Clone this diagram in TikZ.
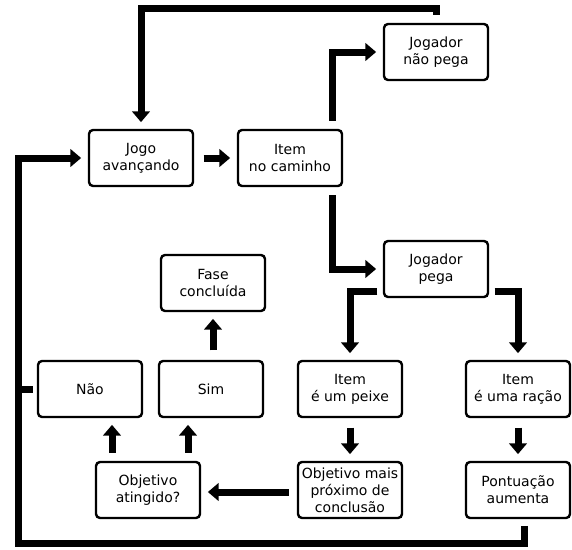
\documentclass[tikz,border=0pt]{standalone}
\usepackage{fontspec}
\setmainfont{DejaVu Sans}
\usetikzlibrary{arrows.meta}

\begin{document}
\begin{tikzpicture}[x=0.75pt, y=-0.75pt,
  box/.style={draw, line width=1.8pt, rounded corners=3pt, fill=white,
    minimum width=78pt, minimum height=42pt, inner sep=1pt, align=center,
    font=\fontsize{10.5}{12.8}\selectfont},
  flow/.style={line width=5.25pt, -{Triangle[length=8pt,width=13pt]},
    shorten <=6pt, shorten >=5pt},
  link/.style={line width=5.25pt, shorten <=3pt}]
\useasboundingbox (0,0) rectangle (572,550);

% Boxes
\node[box] (jogo) at (141,158) {Jogo\\avançando};
\node[box] (item) at (290,158) {Item\\no caminho};
\node[box] (naopega) at (436,52) {Jogador\\não pega};
\node[box] (pega) at (436,269) {Jogador\\pega};
\node[box] (fase) at (213,283) {Fase\\concluída};
\node[box] (nao) at (90,389) {Não};
\node[box] (sim) at (211,389) {Sim};
\node[box] (peixe) at (350,389) {Item\\é um peixe};
\node[box] (racao) at (518,389) {Item\\é uma ração};
\node[box] (atingido) at (148,490) {Objetivo\\atingido?};
\node[box] (proximo) at (350,490) {Objetivo mais\\próximo de\\conclusão};
\node[box] (pontuacao) at (518,490) {Pontuação\\aumenta};

% Corner of the loop back
\coordinate (loopbl) at (18,543);

% Arrows
\draw[flow] (naopega.north) -- ++(0,-14) -| (jogo.north);
\draw[flow, shorten <=7pt] (jogo.east) -- (item.west);
\draw[flow] ([xshift=32pt]item.north) |- (naopega.west);
\draw[flow] ([xshift=32pt]item.south) |- (pega.west);
\draw[flow, shorten <=4pt] ([yshift=-16.5pt]pega.west) -| (peixe.north);
\draw[flow, shorten <=4pt] ([yshift=-16.5pt]pega.east) -| (racao.north);
\draw[flow, shorten <=7pt] (peixe.south) -- (proximo.north);
\draw[flow, shorten <=7pt] (racao.south) -- (pontuacao.north);
\draw[flow] ([yshift=-1.5pt]proximo.west) -- ([yshift=-1.5pt]atingido.east);
\draw[flow] ([xshift=-27pt]atingido.north) -- ([xshift=-27pt]atingido.north |- nao.south);
\draw[flow] ([xshift=30pt]atingido.north) -- ([xshift=30pt]atingido.north |- sim.south);
\draw[flow, shorten <=7pt] (fase.south |- sim.north) -- (fase.south);
\draw[flow, shorten <=5pt] ([xshift=4.5pt]pontuacao.south) |- (loopbl) |- (jogo.west);
\draw[link] (nao.west) -- (nao.west -| loopbl);
\end{tikzpicture}
\end{document}
